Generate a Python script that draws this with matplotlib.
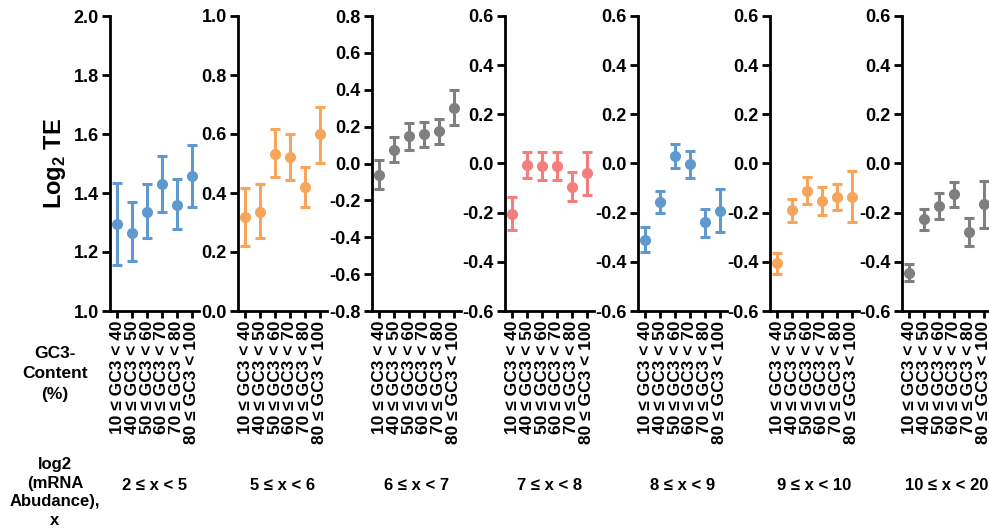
import numpy as np
import matplotlib
matplotlib.use("Agg")
from matplotlib import pyplot as plt

plt.rcParams['font.family'] = ['Liberation Sans', 'DejaVu Sans']
plt.rcParams['font.weight'] = 'bold'
plt.rcParams['mathtext.fontset'] = 'custom'
plt.rcParams['mathtext.bf'] = 'Liberation Sans:bold'
plt.rcParams['mathtext.rm'] = 'Liberation Sans:bold'

gc3_labels = ["10 ≤ GC3 < 40", "40 ≤ GC3 < 50", "50 ≤ GC3 < 60",
              "60 ≤ GC3 < 70", "70 ≤ GC3 < 80", "80 ≤ GC3 < 100"]
abundance_labels = ["2 ≤ x < 5", "5 ≤ x < 6", "6 ≤ x < 7", "7 ≤ x < 8",
                    "8 ≤ x < 9", "9 ≤ x < 10", "10 ≤ x < 20"]

# mean log2 TE per GC3 bin, one list per abundance bin
means = [
    [1.295, 1.263, 1.337, 1.429, 1.360, 1.458],
    [0.320, 0.336, 0.533, 0.521, 0.419, 0.599],
    [-0.061, 0.073, 0.149, 0.160, 0.176, 0.303],
    [-0.205, -0.005, -0.009, -0.009, -0.096, -0.039],
    [-0.310, -0.157, 0.030, -0.004, -0.239, -0.192],
    [-0.406, -0.189, -0.111, -0.151, -0.136, -0.135],
    [-0.444, -0.226, -0.174, -0.124, -0.279, -0.166],
]
# error bar ends
lows = [
    [1.156, 1.170, 1.246, 1.336, 1.277, 1.354],
    [0.221, 0.246, 0.453, 0.444, 0.351, 0.501],
    [-0.140, 0.006, 0.073, 0.091, 0.108, 0.207],
    [-0.271, -0.060, -0.067, -0.067, -0.154, -0.127],
    [-0.359, -0.203, -0.020, -0.060, -0.298, -0.280],
    [-0.450, -0.237, -0.165, -0.211, -0.190, -0.237],
    [-0.477, -0.271, -0.227, -0.176, -0.336, -0.264],
]
highs = [
    [1.433, 1.368, 1.430, 1.525, 1.446, 1.563],
    [0.416, 0.429, 0.616, 0.599, 0.488, 0.692],
    [0.019, 0.142, 0.221, 0.225, 0.243, 0.399],
    [-0.138, 0.048, 0.048, 0.045, -0.036, 0.048],
    [-0.260, -0.111, 0.078, 0.050, -0.184, -0.102],
    [-0.363, -0.144, -0.054, -0.096, -0.083, -0.030],
    [-0.407, -0.185, -0.121, -0.077, -0.223, -0.071],
]
ylims = [(1.0, 2.0), (0.0, 1.0), (-0.8, 0.8), (-0.6, 0.6),
         (-0.6, 0.6), (-0.6, 0.6), (-0.6, 0.6)]
colors = ["#6099d0", "#f8a55c", "#7f7f7f", "#f47e7e",
          "#6099d0", "#f8a55c", "#7f7f7f"]


def fmt_tick(v, pos):
    if abs(v) < 1e-9:
        return "0.0"
    return "%.1f" % v


W, H = 989, 528
fig = plt.figure(figsize=(W / 100, H / 100), dpi=100)

spine_x = [110, 238, 372, 505, 638, 770, 902]
ax_w = 89
ax_top, ax_bot = 16, 311

for i in range(7):
    ax = fig.add_axes([spine_x[i] / W, 1 - ax_bot / H, ax_w / W, (ax_bot - ax_top) / H])
    x = np.arange(6)
    m = np.array(means[i])
    err = [m - np.array(lows[i]), np.array(highs[i]) - m]
    ax.errorbar(x, m, yerr=err, fmt='o', color=colors[i], ms=7,
                elinewidth=2.2, capsize=3.5, capthick=2.2)
    ax.set_xlim(-0.5, 5.5)
    ax.set_ylim(*ylims[i])
    ax.set_yticks(np.arange(ylims[i][0], ylims[i][1] + 0.01, 0.2))
    ax.yaxis.set_major_formatter(matplotlib.ticker.FuncFormatter(fmt_tick))
    ax.set_xticks(x)
    ax.set_xticklabels(gc3_labels, rotation=90, fontsize=12.5, fontweight='bold')
    for lab in ax.get_yticklabels():
        lab.set_fontweight('bold')
        lab.set_fontsize(13)
    for s in ['top', 'right']:
        ax.spines[s].set_visible(False)
    for s in ['left', 'bottom']:
        ax.spines[s].set_linewidth(2)
    ax.tick_params(axis='y', length=6, width=2, pad=2)
    ax.tick_params(axis='x', length=5, width=2, pad=2)
    ax.set_facecolor('none')
    fig.text((spine_x[i] + ax_w / 2) / W, 1 - 486 / H, abundance_labels[i],
             ha='center', va='center', fontsize=12, fontweight='bold')
    if i == 0:
        ax.set_ylabel(r'Log$_\mathbf{2}$ TE', fontsize=17, fontweight='bold')
        ax.yaxis.set_label_coords(-0.47, 0.5)

fig.text(55 / W, 1 - 374 / H, "GC3-\nContent\n(%)", ha='center', va='center',
         fontsize=12.5, fontweight='bold', linespacing=1.5)
fig.text(55 / W, 1 - 457 / H, "log2\n(mRNA\nAbudance),\nx", ha='center', va='top',
         fontsize=12, fontweight='bold', linespacing=1.3)

fig.savefig("out.png", dpi=100)
